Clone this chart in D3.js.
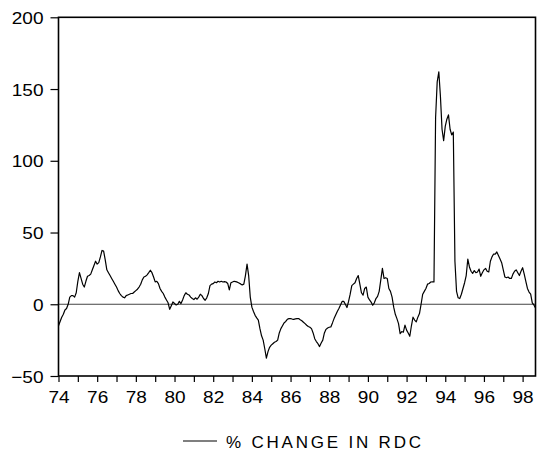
<!DOCTYPE html>
<html>
<head>
<meta charset="utf-8">
<script src="https://cdn.jsdelivr.net/npm/d3@7/dist/d3.min.js"></script>
<style>
  html, body { margin: 0; padding: 0; background: #fff; }
  svg { display: block; }
  text { font-family: "Liberation Sans", Arial, sans-serif; fill: #000; }
</style>
</head>
<body>
<svg id="chart" width="539" height="457"></svg>
<script>
// Monthly % change in RDC, January 1974 through September 1998
const startYear = 1974;
const seriesName = "% CHANGE IN RDC";
const pctChange = [
  // 1974
  -15, -12, -9, -7, -4, -3, 0, 5, 6, 6, 5, 8,
  // 1975
  16, 22, 18, 14, 12, 16, 19.5, 20, 21, 24, 27, 30,
  // 1976
  28, 29, 33, 37.5, 37, 31, 24, 22, 20, 18, 16, 14,
  // 1977
  12, 9.5, 7.5, 6, 5, 4.5, 6, 6.5, 7, 7.5, 7.5, 8.5,
  // 1978
  9.5, 10.5, 12, 14, 17, 19, 19.5, 20.5, 22, 23.7, 22, 19,
  // 1979
  15.6, 16, 14.4, 11, 9, 7.5, 5, 3, 1, -3.5, -1, 1.6,
  // 1980
  0.5, -0.5, 0, 2, 0.5, 3, 6, 8, 7, 6.5, 5, 4,
  // 1981
  3.3, 4.5, 3.5, 5, 7, 6, 4, 2.8, 4.5, 7.5, 13, 14,
  // 1982
  14.4, 15.5, 15, 16, 15.5, 16, 15.5, 15.8, 15.5, 14.5, 10, 15,
  // 1983
  15.5, 16, 15.8, 15.4, 14.8, 14.2, 13.5, 14, 20, 28, 20, 5,
  // 1984
  -2, -5, -7.7, -9.5, -11, -17, -22, -25, -31, -37.5, -33, -30,
  // 1985
  -28.5, -27.5, -26.5, -26, -25, -20, -17, -15, -13, -12, -10.5, -10,
  // 1986
  -10, -10.3, -10.5, -10.2, -10, -10, -10.8, -11.5, -12.5, -13.5, -14.6, -15.5,
  // 1987
  -16, -17, -20, -24, -26, -27.5, -29.5, -27, -25, -20, -17.5, -16.5,
  // 1988
  -16, -15.8, -13, -10, -7.5, -5, -3, -0.5, 2, 2, 0, -2.3,
  // 1989
  2, 7, 13, 14, 15, 18, 20, 14, 8, 6.3, 11, 12,
  // 1990
  5, 3, 1.5, -0.7, 1, 4, 5.5, 9, 17, 25, 18, 18.5,
  // 1991
  18, 11, 9, 5, -2, -7, -10, -13.5, -20.5, -19, -19.5, -14.5,
  // 1992
  -18, -20, -22.3, -15, -9, -11, -12.3, -9, -6.5, 0, 7, 9,
  // 1993
  11, 14, 14.5, 15.5, 15.6, 15.6, 130, 155, 162, 145, 122, 114,
  // 1994
  124, 129, 132, 122, 118, 120, 30, 9, 4.5, 4, 7, 11,
  // 1995
  15, 20, 31.5, 26, 23, 21.5, 23.5, 22, 22.5, 24.5, 19.5, 22,
  // 1996
  24, 25, 23, 22.5, 30, 33, 35, 35, 36.5, 34, 31.5, 29,
  // 1997
  24, 19, 18.5, 19, 18, 18, 21, 23, 24, 22, 20, 23,
  // 1998
  25.5, 21, 16, 11, 8.5, 7, 1, -0.5, -2.5
];
const yTicks = [-50, 0, 50, 100, 150, 200];
const yearTicks = d3.range(1974, 1999);
const labelledYears = d3.range(1974, 1999, 2);

const data = pctChange.map((v, i) => ({ t: startYear + i / 12, v }));

const svg = d3.select("#chart");
const plot = { left: 58.5, right: 535.5, top: 17.3, bottom: 376 };

const x = d3.scaleLinear()
  .domain([startYear, startYear + (pctChange.length - 1) / 12])
  .range([plot.left, plot.right]);
const y = d3.scaleLinear()
  .domain([-50, 200])
  .range([plot.bottom, plot.top]);

// zero reference line
svg.append("line")
  .attr("x1", plot.left).attr("x2", plot.right)
  .attr("y1", y(0)).attr("y2", y(0))
  .attr("stroke", "#444").attr("stroke-width", 1);

// series line
svg.append("path")
  .datum(data)
  .attr("fill", "none")
  .attr("stroke", "#000")
  .attr("stroke-width", 1.2)
  .attr("stroke-linejoin", "round")
  .attr("d", d3.line().x(d => x(d.t)).y(d => y(d.v)));

// frame
svg.append("rect")
  .attr("x", plot.left).attr("y", plot.top)
  .attr("width", plot.right - plot.left)
  .attr("height", plot.bottom - plot.top)
  .attr("fill", "none").attr("stroke", "#000").attr("stroke-width", 1.6);

// left axis
const yAxis = d3.axisLeft(y).tickValues(yTicks).tickSize(8).tickFormat("");
const gy = svg.append("g").attr("transform", `translate(${plot.left},0)`).call(yAxis);
gy.select(".domain").remove();
gy.selectAll(".tick line").attr("stroke", "#000").attr("stroke-width", 1.2);
gy.selectAll(".tick").append("text")
  .attr("text-anchor", "end")
  .attr("transform", "translate(-15,6) scale(1.12,1)")
  .style("font-size", "17px")
  .text(d => d3.format("d")(d));

// bottom axis
const xAxis = d3.axisBottom(x).tickValues(yearTicks).tickSize(6).tickFormat("");
const gx = svg.append("g").attr("transform", `translate(0,${plot.bottom})`).call(xAxis);
gx.select(".domain").remove();
gx.selectAll(".tick line").attr("stroke", "#000").attr("stroke-width", 1.2);
gx.selectAll(".tick").filter(d => labelledYears.includes(d)).append("text")
  .attr("text-anchor", "middle")
  .attr("transform", "translate(0,27) scale(1.12,1)")
  .style("font-size", "17px")
  .text(d => String(d % 100).padStart(2, "0"));

// legend
const legend = svg.append("g").attr("transform", "translate(183,441)");
legend.append("line")
  .attr("x1", 0).attr("x2", 34).attr("y1", 0).attr("y2", 0)
  .attr("stroke", "#000").attr("stroke-width", 1.2);
legend.append("text")
  .attr("x", 43).attr("y", 6.5)
  .style("font-size", "17px")
  .style("letter-spacing", "2.8px")
  .text(seriesName);
</script>
</body>
</html>
